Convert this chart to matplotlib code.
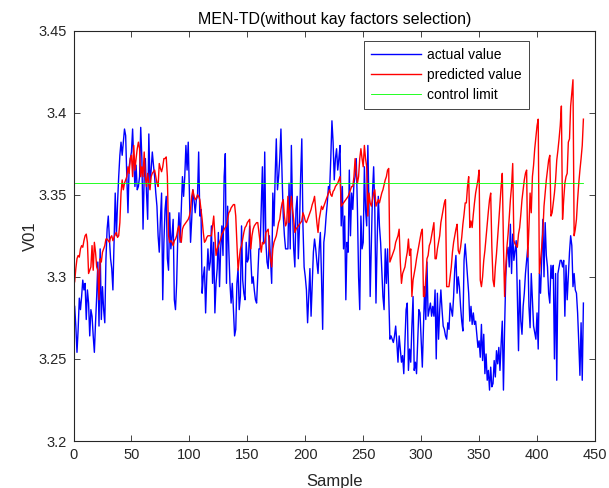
import numpy as np
import matplotlib
matplotlib.use('Agg')
import matplotlib.pyplot as plt

plt.rcParams['font.family'] = ['Liberation Sans', 'DejaVu Sans']

# actual V01 values
actual = [
    3.282, 3.270, 3.254, 3.268, 3.287, 3.280, 3.288, 3.298, 3.292, 3.296,
    3.274, 3.292, 3.284, 3.264, 3.280, 3.276, 3.264, 3.254, 3.272, 3.288,
    3.309, 3.270, 3.317, 3.274, 3.294, 3.280, 3.272, 3.311, 3.329, 3.337,
    3.323, 3.311, 3.305, 3.292, 3.321, 3.351, 3.325, 3.345, 3.361, 3.374,
    3.382, 3.374, 3.382, 3.390, 3.386, 3.361, 3.339, 3.367, 3.372, 3.376,
    3.390, 3.370, 3.355, 3.368, 3.353, 3.355, 3.361, 3.391, 3.372, 3.329,
    3.361, 3.372, 3.351, 3.335, 3.387, 3.357, 3.365, 3.376, 3.368, 3.361,
    3.351, 3.343, 3.325, 3.315, 3.335, 3.351, 3.286, 3.321, 3.341, 3.349,
    3.311, 3.304, 3.339, 3.317, 3.325, 3.335, 3.286, 3.280, 3.296, 3.325,
    3.339, 3.321, 3.341, 3.361, 3.349, 3.361, 3.380, 3.365, 3.382, 3.351,
    3.321, 3.335, 3.353, 3.347, 3.339, 3.347, 3.349, 3.376, 3.337, 3.341,
    3.290, 3.300, 3.306, 3.278, 3.300, 3.317, 3.304, 3.309, 3.331, 3.296,
    3.321, 3.278, 3.296, 3.305, 3.327, 3.294, 3.317, 3.331, 3.313, 3.361,
    3.375, 3.296, 3.343, 3.317, 3.296, 3.284, 3.296, 3.280, 3.264, 3.268,
    3.296, 3.305, 3.280, 3.288, 3.331, 3.298, 3.290, 3.286, 3.321, 3.309,
    3.311, 3.331, 3.311, 3.296, 3.300, 3.292, 3.286, 3.284, 3.300, 3.317,
    3.317, 3.341, 3.367, 3.321, 3.376, 3.321, 3.309, 3.305, 3.325, 3.311,
    3.296, 3.351, 3.331, 3.361, 3.384, 3.353, 3.361, 3.372, 3.390, 3.361,
    3.337, 3.325, 3.317, 3.317, 3.317, 3.357, 3.317, 3.380, 3.341, 3.317,
    3.306, 3.341, 3.349, 3.311, 3.331, 3.361, 3.384, 3.331, 3.306, 3.300,
    3.292, 3.272, 3.288, 3.305, 3.276, 3.296, 3.315, 3.323, 3.317, 3.309,
    3.302, 3.317, 3.327, 3.300, 3.268, 3.321, 3.327, 3.337, 3.345, 3.355,
    3.353, 3.372, 3.395, 3.382, 3.359, 3.372, 3.378, 3.365, 3.372, 3.380,
    3.331, 3.355, 3.317, 3.337, 3.286, 3.321, 3.315, 3.365, 3.325, 3.351,
    3.341, 3.357, 3.361, 3.372, 3.341, 3.300, 3.280, 3.337, 3.317, 3.321,
    3.367, 3.341, 3.331, 3.380, 3.341, 3.288, 3.321, 3.351, 3.367, 3.341,
    3.284, 3.321, 3.349, 3.331, 3.321, 3.305, 3.288, 3.280, 3.317, 3.296,
    3.317, 3.290, 3.262, 3.264, 3.262, 3.260, 3.264, 3.270, 3.260, 3.248,
    3.264, 3.256, 3.248, 3.252, 3.241, 3.260, 3.280, 3.284, 3.243, 3.256,
    3.248, 3.270, 3.288, 3.243, 3.248, 3.241, 3.260, 3.280, 3.278, 3.262,
    3.245, 3.270, 3.294, 3.274, 3.309, 3.276, 3.280, 3.284, 3.276, 3.282,
    3.276, 3.292, 3.250, 3.290, 3.262, 3.280, 3.292, 3.280, 3.270, 3.268,
    3.264, 3.262, 3.272, 3.268, 3.284, 3.280, 3.276, 3.288, 3.305, 3.313,
    3.290, 3.300, 3.294, 3.282, 3.273, 3.267, 3.310, 3.320, 3.310, 3.300,
    3.290, 3.273, 3.282, 3.271, 3.278, 3.271, 3.273, 3.265, 3.257, 3.261,
    3.251, 3.271, 3.249, 3.265, 3.241, 3.253, 3.237, 3.243, 3.231, 3.245,
    3.233, 3.235, 3.249, 3.239, 3.255, 3.247, 3.257, 3.243, 3.259, 3.273,
    3.231, 3.269, 3.300, 3.314, 3.318, 3.306, 3.332, 3.302, 3.326, 3.310,
    3.316, 3.322, 3.290, 3.255, 3.298, 3.273, 3.265, 3.282, 3.290, 3.302,
    3.310, 3.318, 3.282, 3.269, 3.302, 3.286, 3.270, 3.266, 3.262, 3.278,
    3.256, 3.302, 3.290, 3.310, 3.335, 3.300, 3.333, 3.313, 3.306, 3.290,
    3.284, 3.307, 3.299, 3.307, 3.250, 3.302, 3.237, 3.302, 3.306, 3.310,
    3.310, 3.306, 3.310, 3.276, 3.307, 3.286, 3.300, 3.315, 3.325, 3.319,
    3.294, 3.302, 3.292, 3.290, 3.278, 3.260, 3.240, 3.272, 3.237, 3.284,
]

# predicted V01 values
predicted = [
    3.297, 3.305, 3.311, 3.313, 3.312, 3.317, 3.319, 3.318, 3.322, 3.325,
    3.326, 3.321, 3.302, 3.304, 3.306, 3.319, 3.304, 3.321, 3.315, 3.306,
    3.304, 3.286, 3.311, 3.309, 3.315, 3.317, 3.319, 3.323, 3.323, 3.322,
    3.321, 3.324, 3.325, 3.322, 3.324, 3.326, 3.327, 3.324, 3.325, 3.333,
    3.351, 3.359, 3.353, 3.357, 3.359, 3.361, 3.367, 3.363, 3.372, 3.374,
    3.361, 3.380, 3.365, 3.372, 3.378, 3.382, 3.378, 3.361, 3.367, 3.361,
    3.376, 3.361, 3.355, 3.363, 3.357, 3.353, 3.361, 3.363, 3.364, 3.365,
    3.361, 3.357, 3.355, 3.369, 3.366, 3.364, 3.367, 3.372, 3.372, 3.373,
    3.361, 3.325, 3.321, 3.322, 3.321, 3.319, 3.322, 3.323, 3.325, 3.329,
    3.331, 3.323, 3.321, 3.329, 3.331, 3.332, 3.333, 3.334, 3.335, 3.337,
    3.341, 3.349, 3.353, 3.349, 3.347, 3.348, 3.350, 3.349, 3.347, 3.341,
    3.335, 3.327, 3.321, 3.322, 3.324, 3.325, 3.325, 3.325, 3.325, 3.331,
    3.337, 3.325, 3.313, 3.317, 3.319, 3.321, 3.323, 3.326, 3.327, 3.329,
    3.330, 3.331, 3.335, 3.339, 3.340, 3.342, 3.343, 3.344, 3.344, 3.337,
    3.321, 3.304, 3.311, 3.317, 3.319, 3.323, 3.327, 3.330, 3.331, 3.333,
    3.334, 3.335, 3.317, 3.325, 3.329, 3.331, 3.332, 3.333, 3.333, 3.327,
    3.321, 3.315, 3.321, 3.320, 3.321, 3.327, 3.328, 3.329, 3.317, 3.311,
    3.306, 3.317, 3.321, 3.323, 3.325, 3.329, 3.333, 3.335, 3.341, 3.345,
    3.347, 3.337, 3.331, 3.333, 3.349, 3.333, 3.341, 3.349, 3.341, 3.335,
    3.327, 3.329, 3.330, 3.331, 3.332, 3.333, 3.334, 3.339, 3.337, 3.334,
    3.333, 3.335, 3.337, 3.339, 3.341, 3.344, 3.346, 3.349, 3.341, 3.333,
    3.327, 3.335, 3.339, 3.343, 3.341, 3.343, 3.345, 3.347, 3.349, 3.351,
    3.353, 3.350, 3.349, 3.352, 3.353, 3.355, 3.356, 3.357, 3.359, 3.361,
    3.343, 3.344, 3.345, 3.346, 3.347, 3.348, 3.349, 3.351, 3.353, 3.355,
    3.355, 3.361, 3.372, 3.363, 3.357, 3.361, 3.372, 3.378, 3.372, 3.367,
    3.380, 3.372, 3.367, 3.337, 3.351, 3.345, 3.343, 3.347, 3.351, 3.353,
    3.343, 3.345, 3.347, 3.345, 3.348, 3.351, 3.353, 3.356, 3.359, 3.361,
    3.365, 3.366, 3.309, 3.311, 3.313, 3.315, 3.317, 3.321, 3.323, 3.325,
    3.329, 3.309, 3.296, 3.302, 3.304, 3.306, 3.311, 3.315, 3.323, 3.313,
    3.317, 3.288, 3.298, 3.302, 3.306, 3.311, 3.315, 3.319, 3.323, 3.327,
    3.329, 3.288, 3.288, 3.300, 3.311, 3.313, 3.319, 3.321, 3.325, 3.329,
    3.333, 3.311, 3.311, 3.317, 3.321, 3.325, 3.333, 3.337, 3.341, 3.345,
    3.347, 3.294, 3.294, 3.294, 3.300, 3.306, 3.315, 3.321, 3.325, 3.329,
    3.332, 3.316, 3.314, 3.318, 3.324, 3.332, 3.338, 3.345, 3.345, 3.355,
    3.361, 3.330, 3.334, 3.330, 3.338, 3.345, 3.351, 3.355, 3.359, 3.365,
    3.298, 3.294, 3.300, 3.310, 3.316, 3.324, 3.332, 3.340, 3.347, 3.351,
    3.318, 3.298, 3.294, 3.306, 3.314, 3.324, 3.334, 3.345, 3.355, 3.363,
    3.320, 3.288, 3.306, 3.318, 3.326, 3.336, 3.347, 3.355, 3.369, 3.322,
    3.320, 3.319, 3.318, 3.326, 3.330, 3.338, 3.347, 3.353, 3.359, 3.363,
    3.365, 3.312, 3.330, 3.351, 3.339, 3.361, 3.368, 3.378, 3.385, 3.392,
    3.396, 3.302, 3.310, 3.318, 3.327, 3.343, 3.351, 3.359, 3.365, 3.371,
    3.374, 3.337, 3.339, 3.345, 3.351, 3.359, 3.371, 3.377, 3.384, 3.392,
    3.404, 3.335, 3.347, 3.357, 3.361, 3.363, 3.382, 3.384, 3.404, 3.412,
    3.420, 3.325, 3.329, 3.335, 3.347, 3.357, 3.365, 3.372, 3.380, 3.396,
]

control_limit = 3.3573

title = 'MEN-TD(without kay factors selection)'
x_ticks = [0, 50, 100, 150, 200, 250, 300, 350, 400, 450]
y_ticks = [3.2, 3.25, 3.3, 3.35, 3.4, 3.45]
y_tick_labels = ['3.2', '3.25', '3.3', '3.35', '3.4', '3.45']

n = len(actual)
sample = np.arange(1, n + 1)
limit_line = np.full(n, control_limit)

dark = '#262626'

fig = plt.figure(figsize=(6.09, 4.88), dpi=100)
ax = fig.add_axes([0.1207, 0.0963, 0.8563, 0.8412])

ax.plot(sample, actual, color='#0000ff', lw=1.0, label='actual value')
ax.plot(sample, predicted, color='#ff0000', lw=1.0, label='predicted value')
ax.plot(sample, limit_line, color='#00ff00', lw=0.6, label='control limit')

ax.set_xlim(0, 450)
ax.set_ylim(3.2, 3.45)
ax.set_xticks(x_ticks)
ax.set_yticks(y_ticks)
ax.set_yticklabels(y_tick_labels)

ax.tick_params(direction='in', length=4, width=0.6, colors=dark, labelsize=10.5,
               top=True, right=True, pad=5)
for sp in ax.spines.values():
    sp.set_color(dark)
    sp.set_linewidth(0.8)

ax.set_title(title, fontsize=11.5, color='black', pad=5)
ax.set_xlabel('Sample', fontsize=12, color=dark, labelpad=9)
ax.set_ylabel('V01', fontsize=12, color=dark, labelpad=0)

leg = ax.legend(loc='upper left', bbox_to_anchor=(0.557, 0.975), fontsize=10,
                handlelength=3.6, handletextpad=0.45, borderpad=0.5,
                labelspacing=0.45, fancybox=False, framealpha=1,
                edgecolor=dark, borderaxespad=0)
leg.get_frame().set_linewidth(0.6)

fig.savefig('out.png', dpi=100)
